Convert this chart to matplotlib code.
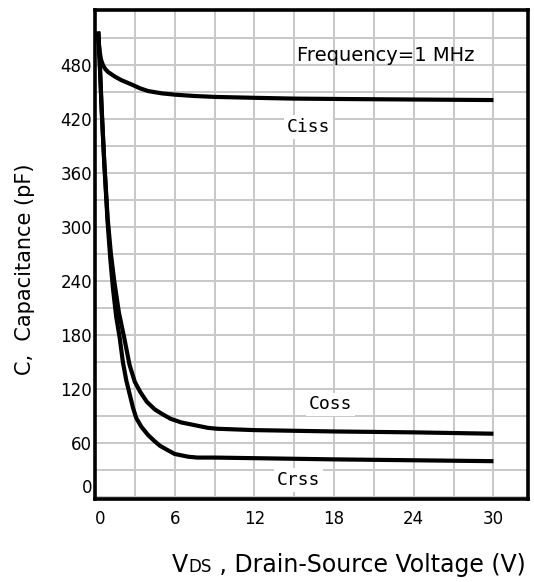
import numpy as np
import matplotlib
matplotlib.use("Agg")
import matplotlib.pyplot as plt

# capacitance curves (V, pF)
ciss_v = [0.22, 0.28, 0.35, 0.45, 0.62, 0.8, 1.0, 1.5, 2.0, 2.8, 3.4, 4.0, 5.0, 6.0, 7.5, 9.0, 12.0, 15.0, 20.0, 25.0, 30.0]
ciss_c = [517, 505, 495, 486, 479, 475, 472, 467, 463, 458, 454, 451, 448.5, 447, 445.5, 444.5, 443.5, 442.6, 442, 441.5, 441]

coss_v = [0.25, 0.35, 0.5, 0.7, 0.95, 1.2, 1.45, 1.8, 2.2, 2.6, 3.0, 3.4, 3.9, 4.5, 5.1, 5.7, 6.5, 7.5, 8.5, 9.2, 12.0, 18.0, 24.0, 30.0]
coss_c = [517, 485, 432, 372, 310, 270, 240, 205, 177, 147, 128, 117, 106, 97.5, 92, 87, 83, 80, 77, 76, 74.5, 73, 72, 70.5]

crss_v = [0.25, 0.35, 0.5, 0.7, 0.95, 1.15, 1.35, 1.6, 1.86, 2.1, 2.35, 2.6, 2.85, 3.1, 3.5, 4.0, 4.5, 4.9, 5.5, 6.0, 7.0, 7.7, 9.0, 18.0, 30.0]
crss_c = [517, 485, 430, 370, 305, 265, 232, 200, 177, 150, 130, 115, 100, 88, 78, 69, 62, 57, 52, 48, 45, 44, 44, 42, 40]

xticks = [0, 6, 12, 18, 24, 30]
yticks = [0, 60, 120, 180, 240, 300, 360, 420, 480]

fig = plt.figure(figsize=(5.34, 5.82), dpi=100)
ax = fig.add_axes([95/534, 83/582, 433/534, 489/582])

ax.set_xlim(0, 32.6)
ax.set_ylim(-2, 541)

ax.set_xticks(xticks)
ax.set_yticks(yticks)
# light grid every 3 V / 30 pF
ax.set_xticks(np.arange(3, 33, 6), minor=True)
ax.set_yticks(np.arange(30, 541, 60), minor=True)
ax.grid(which='both', color='#c8c8c8', linewidth=1.4)
ax.set_axisbelow(True)

ax.tick_params(which='both', length=0)
ax.tick_params(axis='x', pad=8, labelsize=12)
ax.tick_params(axis='y', pad=2, labelsize=12)
ax.get_yticklabels()[0].set_va('bottom')
ax.get_xticklabels()[0].set_ha('left')

for s in ax.spines.values():
    s.set_linewidth(2.6)
    s.set_color('black')
    s.set_zorder(3)

for v, c in [(ciss_v, ciss_c), (coss_v, coss_c), (crss_v, crss_c)]:
    ax.plot(v, c, color='black', linewidth=3.0, solid_joinstyle='round', solid_capstyle='butt')

box = dict(facecolor='white', edgecolor='none', pad=2)
ax.text(16.05, 411, 'Ciss', family='DejaVu Sans Mono', fontsize=13, ha='center', va='center', bbox=box)
ax.text(17.7, 103, 'Coss', family='DejaVu Sans Mono', fontsize=13, ha='center', va='center', bbox=box)
ax.text(15.3, 19, 'Crss', family='DejaVu Sans Mono', fontsize=13, ha='center', va='center', bbox=box)
ax.text(21.9, 491, 'Frequency=1 MHz', fontsize=14, ha='center', va='center')

fig.text(25/534, 1 - 269/582, 'C,  Capacitance (pF)', rotation=90, fontsize=15,
         ha='center', va='center')

# x label: V with smaller DS, laid out piece by piece
renderer = fig.canvas.get_renderer()
y_base = 1 - 572/582
x0 = 172/534
t1 = fig.text(x0, y_base, 'V', fontsize=17, va='baseline')
w1 = t1.get_window_extent(renderer).width / fig.bbox.width
t2 = fig.text(x0 + w1, y_base, 'DS', fontsize=12, va='baseline')
w2 = t2.get_window_extent(renderer).width / fig.bbox.width
fig.text(x0 + w1 + w2, y_base, ' , Drain-Source Voltage (V)', fontsize=17, va='baseline')

fig.savefig('out.png', dpi=100)
